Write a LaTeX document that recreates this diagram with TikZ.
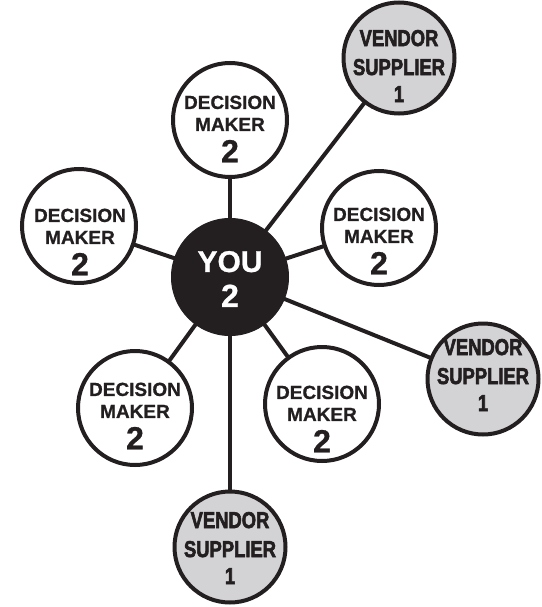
\documentclass[tikz,border=0pt]{standalone}
\usepackage{fontspec}
\usetikzlibrary{backgrounds}
\setmainfont{Liberation Sans}[BoldFeatures={FakeBold=0.8}]
\newfontfamily\vendfont{Liberation Sans}[FakeStretch=0.8, BoldFeatures={FakeBold=2.5}]
\definecolor{ink}{RGB}{35,31,32}
\definecolor{vendorgray}{RGB}{211,211,213}
\begin{document}
\begin{tikzpicture}[x=1pt,y=-1pt,
  conn/.style={line width=4pt, draw=ink},
  dm/.style={circle, draw=ink, line width=4pt, fill=white, minimum size=114pt, inner sep=0pt},
  vend/.style={circle, draw=ink, line width=4pt, fill=vendorgray, minimum size=111pt, inner sep=0pt},
  you/.style={circle, draw=ink, fill=ink, line width=1pt, minimum size=117pt, inner sep=0pt},
  dmtext/.style={align=center, text=ink, inner sep=0pt, font=\bfseries\fontsize{19}{22}\selectfont},
  vtext/.style={align=center, text=ink, inner sep=0pt, font=\vendfont\bfseries\fontsize{23}{29}\selectfont},
  youtext/.style={align=center, text=white, inner sep=0pt, font=\bfseries\fontsize{30}{35}\selectfont}]
\useasboundingbox (0,0) rectangle (541,607);
% circles
\node[you] (you) at (230,277) {};
\node[dm] (dmT) at (230,120) {};
\node[dm] (dmL) at (79,226) {};
\node[dm] (dmR) at (379,228) {};
\node[dm] (dmBL) at (135,408) {};
\node[dm] (dmBR) at (322,404) {};
\node[vend] (vTR) at (399,58) {};
\node[vend] (vR) at (483,379) {};
\node[vend] (vB) at (230,547) {};
% connectors behind the circles
\begin{scope}[on background layer]
\foreach \n in {dmT,dmL,dmR,dmBL,dmBR,vTR,vR,vB}{
  \draw[conn] (you.center) -- (\n.center);
}
\end{scope}
% texts
\node[youtext] (youT) at (230,279) {YOU\\{\fontsize{32}{32}\selectfont 2}};
\node[dmtext] (dmTt) at (230,129) {DECISION\\MAKER\\[8pt]{\fontsize{32}{32}\selectfont 2}};
\node[dmtext] (dmLt) at (80,242) {DECISION\\MAKER\\[8pt]{\fontsize{32}{32}\selectfont 2}};
\node[dmtext] (dmRt) at (379,241) {DECISION\\MAKER\\[8pt]{\fontsize{32}{32}\selectfont 2}};
\node[dmtext] (dmBLt) at (135,416) {DECISION\\MAKER\\[8pt]{\fontsize{32}{32}\selectfont 2}};
\node[dmtext] (dmBRt) at (322,419) {DECISION\\MAKER\\[8pt]{\fontsize{32}{32}\selectfont 2}};
\node[vtext] (vTRt) at (399,66) {VENDOR\\SUPPLIER\\[-2pt]1};
\node[vtext] (vRt) at (483,375) {VENDOR\\SUPPLIER\\[-2pt]1};
\node[vtext] (vBt) at (230,548) {VENDOR\\SUPPLIER\\[-2pt]1};
\end{tikzpicture}
\end{document}
